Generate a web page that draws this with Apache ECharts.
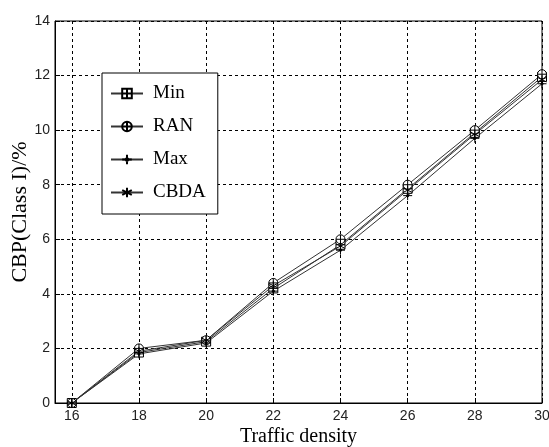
<!DOCTYPE html>
<html>
<head>
<meta charset="utf-8">
<script src="https://cdn.jsdelivr.net/npm/echarts@6/dist/echarts.min.js"></script>
<style>
  html, body { margin: 0; padding: 0; background: #fff; }
  #chart { width: 549px; height: 447px; }
</style>
</head>
<body>
<div id="chart"></div>
<script>
// traffic density (x) and CBP values for each scheme
const density = [16, 18, 20, 22, 24, 26, 28, 30];
const minVals  = [0, 1.85, 2.25, 4.2, 5.8, 7.85, 9.9, 11.95];
const ranVals  = [0, 2.0, 2.3, 4.4, 6.0, 8.0, 10.0, 12.05];
const maxVals  = [0, 1.8, 2.2, 4.1, 5.6, 7.6, 9.7, 11.7];
const cbdaVals = [0, 1.9, 2.3, 4.3, 5.75, 7.8, 9.85, 11.85];
const xTicks = [16, 18, 20, 22, 24, 26, 28, 30];

// marker shapes
const symSquare = 'path://M0,0 L10,0 L10,10 L0,10 Z M5,0 L5,10 M0,5 L10,5';
const symCircle = 'path://M10,5 A5,5 0 1 1 0,5 A5,5 0 1 1 10,5 Z M5,0 L5,10 M0,5 L10,5';
const symDot    = 'path://M5,0 L5,10 M0,5 L10,5 M6.3,5 A1.3,1.3 0 1 1 3.7,5 A1.3,1.3 0 1 1 6.3,5 Z';
const symStar   = 'path://M5,0 L5,10 M0.7,2.5 L9.3,7.5 M0.7,7.5 L9.3,2.5';

const pairs = vals => density.map((d, i) => [d, vals[i]]);

const mk = (name, vals, symbol, fill) => ({
  name,
  type: 'line',
  data: pairs(vals),
  symbol,
  symbolSize: 9,
  showAllSymbol: true,
  lineStyle: { color: '#333', width: 1 },
  itemStyle: { color: fill, borderColor: '#000', borderWidth: 1 },
  emphasis: { disabled: true },
  animation: false
});

const chart = echarts.init(document.getElementById('chart'));
chart.setOption({
  animation: false,
  grid: {
    left: 55, right: 7, top: 21, bottom: 44,
    outerBoundsMode: 'none',
    containLabel: false,
    show: true, borderColor: '#000', borderWidth: 1, backgroundColor: '#fff'
  },
  legend: {
    orient: 'vertical',
    left: 102,
    top: 73,
    backgroundColor: '#fff',
    borderColor: '#000',
    borderWidth: 1,
    borderRadius: 0,
    padding: [11, 12, 12, 8],
    itemWidth: 32,
    itemHeight: 12,
    itemGap: 14,
    textStyle: { fontFamily: 'Liberation Serif', fontSize: 19, color: '#000', padding: [0, 0, 0, 5] },
    data: ['Min', 'RAN', 'Max', 'CBDA']
  },
  xAxis: {
    type: 'value',
    min: 15.5,
    max: 30,
    name: 'Traffic density',
    nameLocation: 'middle',
    nameGap: 24,
    nameMoveOverlap: false,
    nameTextStyle: { fontFamily: 'Liberation Serif', fontSize: 20, color: '#000' },
    axisLine: { onZero: false, lineStyle: { color: '#000' } },
    axisTick: { inside: true, length: 5, customValues: xTicks, lineStyle: { color: '#000' } },
    axisLabel: { customValues: xTicks, margin: 6, fontFamily: 'Liberation Sans', fontSize: 14, color: '#222' },
    splitLine: { show: true, lineStyle: { color: '#000', type: [3, 3], width: 1 } }
  },
  yAxis: {
    type: 'value',
    min: 0,
    max: 14,
    interval: 2,
    name: 'CBP(Class I)/%',
    nameLocation: 'middle',
    nameGap: 24,
    nameMoveOverlap: false,
    nameTextStyle: { fontFamily: 'Liberation Serif', fontSize: 22, color: '#000' },
    axisLine: { show: true, lineStyle: { color: '#000' } },
    axisTick: { show: true, inside: true, length: 5, lineStyle: { color: '#000' } },
    axisLabel: { margin: 5, fontFamily: 'Liberation Sans', fontSize: 14, color: '#222' },
    splitLine: { show: true, lineStyle: { color: '#000', type: [3, 3], width: 1 } }
  },
  series: [
    mk('Min', minVals, symSquare, '#fff'),
    mk('RAN', ranVals, symCircle, '#fff'),
    mk('Max', maxVals, symDot, '#000'),
    mk('CBDA', cbdaVals, symStar, '#fff')
  ]
});
</script>
</body>
</html>
